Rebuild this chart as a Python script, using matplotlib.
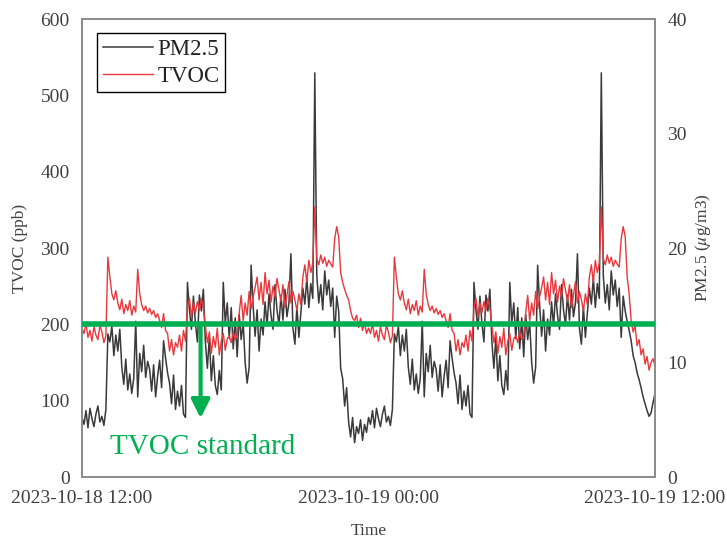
import matplotlib
matplotlib.use("Agg")
import matplotlib.pyplot as plt
import matplotlib.dates as mdates
import pandas as pd

# ---------------- data (5-minute readings) ----------------
# first 12 h (2023-10-18 12:00 .. 23:55)
pm_first = [5.2, 4.6, 5.8, 4.3, 6.0, 5.1, 4.4, 5.5, 6.2, 4.8, 5.3, 4.5, 5.9,
            12.5,
            11.8, 13.2, 10.6, 12.4, 11.0, 12.9,
            9.6, 8.1, 10.3, 7.6, 9.0, 7.3, 8.6,
            13.6, 7.0,
            10.8, 9.2, 11.5, 8.7, 10.1, 9.4,
            7.5, 9.8, 7.0, 8.8, 10.2, 7.8,
            11.9, 10.4, 9.1,
            8.2, 6.4, 8.9, 5.9, 7.5, 6.2, 8.0, 5.5, 5.2,
            17.0,
            14.6, 12.9, 15.8, 13.4, 11.8,
            15.9, 14.5, 16.4,
            11.8, 9.5, 12.2, 8.4, 10.6, 8.0,
            7.2, 9.3, 7.6,
            17.0,
            13.4, 15.2,
            12.1, 14.8, 11.2, 13.9, 10.5, 14.2, 12.0, 13.5,
            10.0, 8.2, 9.6,
            18.5,
            15.0, 12.3, 14.6, 11.0, 13.8, 12.4, 15.3,
            13.2, 16.0, 14.1, 12.9, 16.8, 14.6, 13.3,
            15.9, 13.7, 16.4, 14.0, 15.2,
            19.5,
            13.0, 11.6, 14.9, 12.2, 14.4,
            16.5, 15.1, 17.4, 14.8, 16.9, 15.6,
            35.3,
            17.6, 15.2, 16.8, 14.6, 18.0, 15.9, 17.2, 14.9, 16.5, 12.2, 15.8,
            14.5, 9.5,
            8.6, 6.2, 7.8,
            4.8, 3.5, 5.2, 3.0, 4.4, 3.8, 5.0, 3.2, 4.6, 3.9]

tvoc_first = [195, 188, 201, 183, 192, 178, 197, 186, 180, 199, 190, 176, 185,
              288, 262,
              240, 232, 244,
              228, 219, 233, 214, 226, 218, 231, 212, 224, 216,
              272, 240,
              226, 218, 224, 215, 221, 213,
              218, 209, 214,
              205, 196, 214, 192,
              188, 165, 180, 160, 176,
              170, 186, 165, 192, 178,
              222, 234, 210, 228, 215,
              230, 218, 234, 221,
              198, 176, 190, 162, 184, 170, 195, 160, 178, 188, 166, 181,
              185, 176, 190, 180, 186,
              215, 238, 205, 228, 212, 243, 220, 236,
              248, 262, 232, 255, 226, 268, 240, 258, 229, 250, 236, 260,
              245, 230, 252, 222, 238, 256, 228, 243,
              232, 218, 240, 226,
              262, 278, 255, 284, 268, 280,
              354,
              286, 278, 291, 280, 288, 276, 284, 279,
              275, 312, 328, 315, 268,
              255, 246, 238,
              232, 218, 208,
              205, 212, 196, 208, 192, 203, 188]

# second day repeats the pattern, with a different ending (10:50 .. 12:00)
n_repeat = 130
pm_tail = [13.6, 12.8, 11.9, 10.6, 10.0, 9.1, 8.5, 7.8, 7.0, 6.4, 5.8, 5.3, 5.6, 6.5, 7.3]
tvoc_tail = [262, 240, 205, 190, 198, 172, 180, 160, 168, 148, 158, 140, 150, 155, 145]

pm = pm_first + pm_first[:n_repeat] + pm_tail
tvoc = tvoc_first + tvoc_first[:n_repeat] + tvoc_tail
times = pd.date_range("2023-10-18 12:00", periods=len(pm), freq="5min")

standard = 200
arrow_time = pd.Timestamp("2023-10-18 16:58")
arrow_tip = 77
label_time = pd.Timestamp("2023-10-18 13:10")
label_val = 39

x_ticks = [pd.Timestamp("2023-10-18 12:00"), pd.Timestamp("2023-10-19 00:00"),
           pd.Timestamp("2023-10-19 12:00")]
tvoc_ticks = [0, 100, 200, 300, 400, 500, 600]
pm_ticks = [0, 10, 20, 30, 40]

# ---------------- style ----------------
plt.rcParams['font.family'] = ['Liberation Serif', 'DejaVu Serif']
plt.rcParams['mathtext.fontset'] = 'stix'
txt = '#404040'
green = '#00b050'
frame = '#8c8c8c'

fig = plt.figure(figsize=(7.27, 5.42), dpi=100)
ax = fig.add_axes([0.1128, 0.1199, 0.7882, 0.845])
ax2 = ax.twinx()
ax.set_zorder(ax2.get_zorder() + 1)
ax.patch.set_visible(False)

l_pm, = ax2.plot(times, pm, color='#3a3a3a', lw=1.1, label='PM2.5')
l_tv, = ax.plot(times, tvoc, color='#e8383d', lw=1.0, label='TVOC')

ax.axhline(standard, color=green, lw=4, zorder=5)
ax.annotate('', xy=(arrow_time, arrow_tip), xytext=(arrow_time, standard),
            arrowprops=dict(arrowstyle='-|>', color=green, lw=3,
                            mutation_scale=28, shrinkA=0, shrinkB=0), zorder=6)
ax.text(label_time, label_val, 'TVOC standard', color=green, fontsize=21,
        ha='left', va='center')

ax.set_xlim(x_ticks[0], x_ticks[-1])
ax.set_ylim(0, 600)
ax2.set_ylim(0, 40)
ax.set_xticks(x_ticks)
ax.xaxis.set_major_formatter(mdates.DateFormatter('%Y-%m-%d %H:%M'))
ax.set_yticks(tvoc_ticks)
ax2.set_yticks(pm_ticks)

for a in (ax, ax2):
    for s in a.spines.values():
        s.set_color(frame)
        s.set_linewidth(1.3)
    a.tick_params(length=0, colors=txt)
ax.tick_params(axis='y', labelsize=14, pad=9)
ax.tick_params(axis='x', labelsize=14, pad=9)
ax2.tick_params(axis='y', labelsize=14, pad=9)

ax.set_ylabel('TVOC (ppb)', fontsize=12.5, color=txt, labelpad=9)
ax2.set_ylabel(r'PM2.5 ($\mu$g/m3)', fontsize=12.5, color=txt, labelpad=4)
ax.set_xlabel('Time', fontsize=12.5, color=txt, labelpad=12)

leg = ax.legend(handles=[l_pm, l_tv], loc='upper left',
                bbox_to_anchor=(0.026, 0.969), borderaxespad=0,
                fontsize=16.5, frameon=True, fancybox=False, framealpha=1,
                edgecolor='black', handlelength=2.2, handletextpad=0.2,
                borderpad=0.25, labelspacing=0.25)
leg.get_frame().set_linewidth(1.0)
for t in leg.get_texts():
    t.set_color('#222222')

fig.savefig('out.png', dpi=100)
